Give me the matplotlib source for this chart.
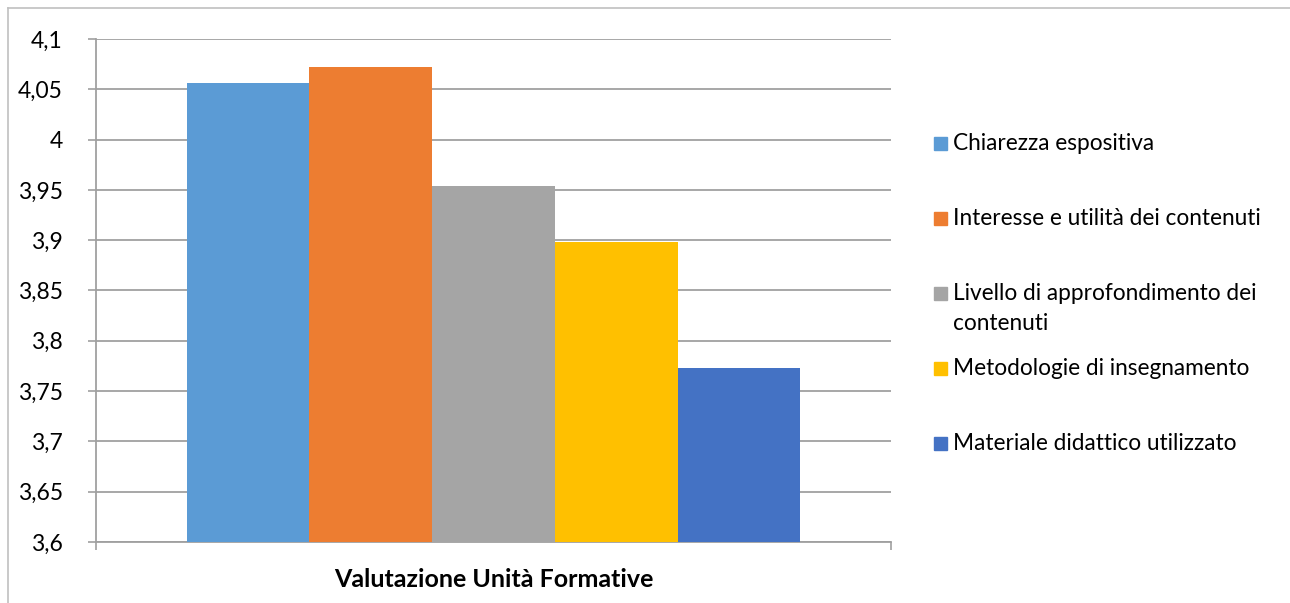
import matplotlib
matplotlib.use("Agg")
import matplotlib.pyplot as plt
from matplotlib.patches import Rectangle
from matplotlib.lines import Line2D

# =============================================================================
# Data
# =============================================================================
categoria = "Valutazione Unità Formative"
voci = ["Chiarezza espositiva",
        "Interesse e utilità dei contenuti",
        "Livello di approfondimento dei\ncontenuti",
        "Metodologie di insegnamento",
        "Materiale didattico utilizzato"]
valori = [4.056, 4.072, 3.954, 3.898, 3.773]
colori = ["#5B9BD5", "#ED7D31", "#A5A5A5", "#FFC000", "#4472C4"]
yticks = [3.6, 3.65, 3.7, 3.75, 3.8, 3.85, 3.9, 3.95, 4.0, 4.05, 4.1]

plt.rcParams['font.family'] = ['Lato', 'DejaVu Sans']

W, H = 1290, 603
fig = plt.figure(figsize=(W / 100, H / 100), dpi=100)
ax = fig.add_axes([96 / W, 1 - 542 / H, (891 - 96) / W, (542 - 39) / H])

# =============================================================================
# Bars
# =============================================================================
w = 0.1543
n = len(valori)
for i, (v, c) in enumerate(zip(valori, colori)):
    ax.bar(0.5 + (i - (n - 1) / 2) * w, v - 3.6, bottom=3.6, width=w,
           color=c, zorder=3)

ax.set_xlim(0, 1)
ax.set_ylim(3.6, 4.1)
ax.set_yticks(yticks)
ax.set_yticklabels([f"{t:g}".replace('.', ',') for t in yticks], fontsize=16.5)
ax.yaxis.grid(True, color='#a0a0a0', lw=1.3, zorder=0)
ax.tick_params(axis='y', length=6, width=1.2, color='#a0a0a0', pad=18)
ax.set_xticks([0, 1])
ax.set_xticklabels([])
ax.tick_params(axis='x', length=6, width=1.2, color='#a0a0a0', direction='out')
for s in ['top', 'right']:
    ax.spines[s].set_visible(False)
for s in ['left', 'bottom']:
    ax.spines[s].set_color('#a0a0a0')
    ax.spines[s].set_linewidth(1.3)
ax.set_xlabel(categoria, fontsize=18, fontweight='bold', labelpad=9)

# =============================================================================
# Legend (Excel-style, evenly spaced on first line)
# =============================================================================
for i, (lab, c) in enumerate(zip(voci, colori)):
    yc = 143 + 75.2 * i
    fig.add_artist(Rectangle((934 / W, 1 - (yc + 6.5) / H), 13 / W, 13 / H,
                             transform=fig.transFigure, color=c))
    for j, line in enumerate(lab.split('\n')):
        fig.text(953 / W, 1 - (yc + 30 * j) / H, line, fontsize=16.3,
                 va='center', ha='left')

# outer chart frame
fig.add_artist(Line2D([8 / W, 8 / W], [0, 1 - 8 / H], transform=fig.transFigure,
                      color='#c0c0c0', lw=1.2))
fig.add_artist(Line2D([8 / W, 1], [1 - 8 / H, 1 - 8 / H], transform=fig.transFigure,
                      color='#c0c0c0', lw=1.2))

fig.savefig("out.png", dpi=100)
